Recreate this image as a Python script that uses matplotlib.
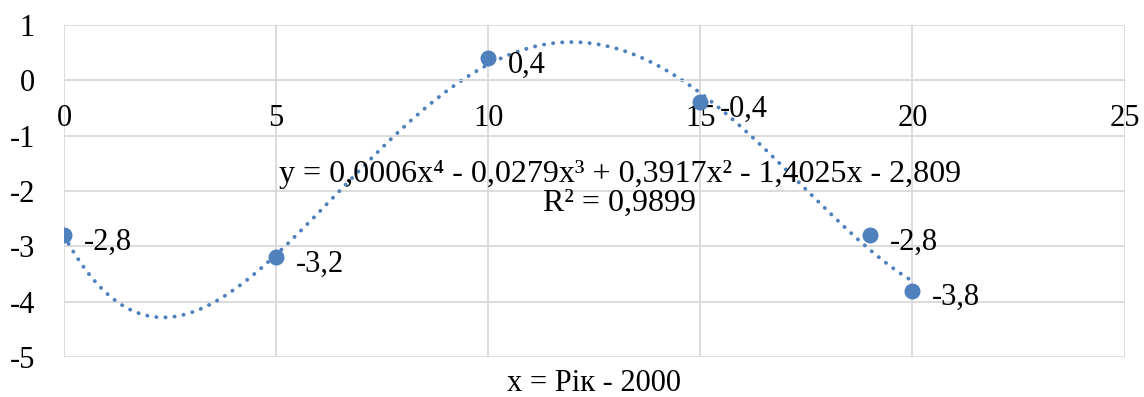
import numpy as np
import matplotlib.pyplot as plt

plt.rcParams['font.family'] = ['Liberation Serif', 'DejaVu Serif']
plt.rcParams['axes.unicode_minus'] = False

# data: x = year - 2000
x_vals = [0, 5, 10, 15, 19, 20]
y_vals = [-2.8, -3.2, 0.4, -0.4, -2.8, -3.8]
x_ticks = [0, 5, 10, 15, 20, 25]
y_ticks = [-5, -4, -3, -2, -1, 0, 1]
eq_text = "y = 0,0006x\u2074 - 0,0279x\u00b3 + 0,3917x\u00b2 - 1,4025x - 2,809\nR\u00b2 = 0,9899"
x_label = "x = Рік - 2000"

blue = '#4F81BD'
grid_c = '#D9D9D9'
fs = 22

fig = plt.figure(figsize=(11.44, 3.97), dpi=100)
ax = fig.add_axes([0.056, 0.101, 0.927, 0.836])

# polynomial trendline (4th order fit of the points)
coef = np.polyfit(x_vals, y_vals, 4)
xs = np.linspace(min(x_vals), max(x_vals), 400)
ax.plot(xs, np.polyval(coef, xs), color=blue, lw=2.8,
        linestyle=(0, (0.05, 2.3)), dash_capstyle='round', zorder=2)

ax.plot(x_vals, y_vals, 'o', color=blue, ms=10.5, zorder=3)

for xv, yv in zip(x_vals, y_vals):
    ax.annotate(f"{yv:.1f}".replace('.', ','), (xv, yv), xytext=(14, -5),
                textcoords='offset points', ha='left', va='center', fontsize=fs)

ax.text(13.1, -1.97, eq_text, ha='center', va='center', fontsize=23,
        linespacing=1.0)

ax.set_xlim(0, 25)
ax.set_ylim(-5, 1)
ax.set_xticks(x_ticks)
ax.set_yticks(y_ticks)
ax.grid(True, color=grid_c, lw=1.3)
ax.set_axisbelow(True)
for s in ax.spines.values():
    s.set_visible(False)
ax.spines['bottom'].set_visible(True)
ax.spines['bottom'].set_position(('data', 0))
ax.spines['bottom'].set_color(grid_c)
ax.tick_params(axis='both', length=0, labelsize=fs)
ax.tick_params(axis='x', pad=17)
ax.tick_params(axis='y', pad=21)
ax.set_xlabel(x_label, fontsize=fs, labelpad=0)
ax.xaxis.set_label_coords(0.5, -0.035)

fig.savefig('out.png', dpi=100)
